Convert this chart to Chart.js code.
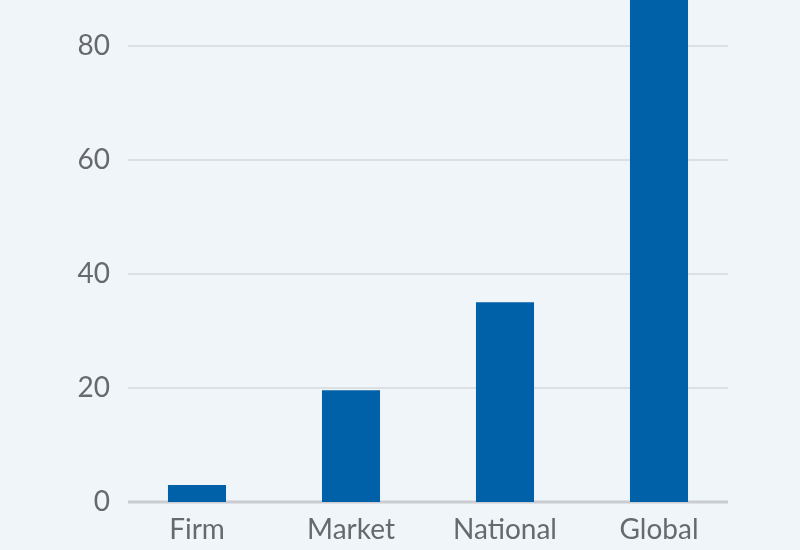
<!DOCTYPE html>
<html>
<head>
<meta charset="utf-8">
<script src="https://cdn.jsdelivr.net/npm/chart.js@4"></script>
<style>
  html, body { margin: 0; padding: 0; background: #f0f5fa; }
  #wrap { width: 800px; height: 550px; }
</style>
</head>
<body>
<div id="wrap"><canvas id="bar_chart" width="800" height="550"></canvas></div>
<script>
// DATA
const categories = ["Firm", "Market", "National", "Global"];
const values = [3, 19.6, 35, 95];
const y_ticks = [0, 20, 40, 60, 80];

const BAR_COLOR = "#0061a9";
const TEXT_COLOR = "#66696d";
const FONT = "Lato, 'Noto Sans', sans-serif";

// draw the horizontal grid a little inside the plot area, zero line darker
const gridPlugin = {
  id: "insetGrid",
  beforeDatasetsDraw(chart) {
    const ctx = chart.ctx;
    const area = chart.chartArea;
    const y = chart.scales.y;
    ctx.save();
    y.ticks.forEach((t) => {
      const py = Math.round(y.getPixelForValue(t.value));
      ctx.beginPath();
      ctx.lineWidth = t.value === 0 ? 3 : 2;
      ctx.strokeStyle = t.value === 0 ? "#c9ccd0" : "#dce0e4";
      ctx.moveTo(area.left + 8, py);
      ctx.lineTo(area.right - 8, py);
      ctx.stroke();
    });
    ctx.restore();
  },
};

const ctx = document.getElementById("bar_chart").getContext("2d");
new Chart(ctx, {
  type: "bar",
  data: {
    labels: categories,
    datasets: [
      {
        data: values,
        backgroundColor: BAR_COLOR,
        borderWidth: 0,
        categoryPercentage: 1,
        barPercentage: 0.377,
      },
    ],
  },
  options: {
    responsive: false,
    animation: false,
    layout: { padding: { left: 0, right: 64, top: 0, bottom: 0 } },
    plugins: {
      legend: { display: false },
      tooltip: { enabled: false },
    },
    scales: {
      x: {
        grid: { display: false, drawTicks: false },
        border: { display: false },
        ticks: {
          color: TEXT_COLOR,
          font: { family: FONT, size: 28 },
          padding: 11,
        },
        afterFit: (scale) => {
          scale.height = 48;
          scale.paddingLeft = 0;
          scale.paddingRight = 0;
        },
      },
      y: {
        min: 0,
        max: 88,
        grid: { display: false, drawTicks: false },
        border: { display: false },
        afterBuildTicks: (scale) => {
          scale.ticks = y_ticks.map((v) => ({ value: v }));
        },
        ticks: {
          includeBounds: false,
          color: TEXT_COLOR,
          font: { family: FONT, size: 28 },
          padding: 10,
        },
        afterFit: (scale) => {
          scale.width = 120;
          scale.paddingTop = 0;
          scale.paddingBottom = 0;
        },
      },
    },
  },
  plugins: [gridPlugin],
});
</script>
</body>
</html>
